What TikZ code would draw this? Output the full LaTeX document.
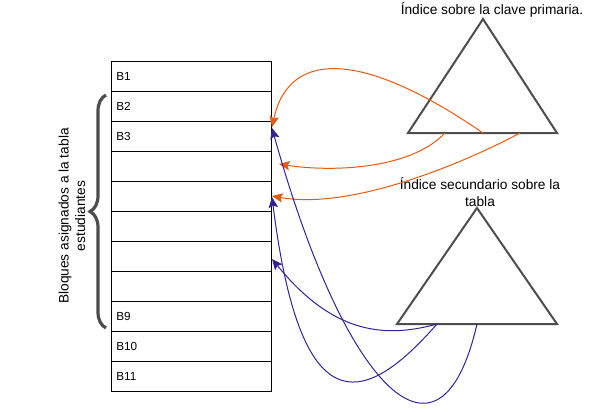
\documentclass[tikz,border=0pt]{standalone}
\usepackage{fontspec}
\setmainfont{Liberation Sans}
\usetikzlibrary{arrows.meta, decorations.pathreplacing}
\definecolor{naranja}{RGB}{232,89,12}
\definecolor{azul}{RGB}{55,32,150}
\definecolor{gris}{RGB}{77,77,77}

\begin{document}
\begin{tikzpicture}[x=0.75pt, y=-0.75pt,
  bloque/.style={draw, line width=0.75pt, minimum height=22.5pt, text width=112pt,
    inner xsep=4pt, inner ysep=0pt, align=left, font=\fontsize{8.8}{10}\selectfont},
  etiqueta/.style={align=center, inner sep=0pt, font=\fontsize{10.3}{12.5}\selectfont},
  arbol/.style={draw=gris, line width=1.5pt, line join=miter},
  llave/.style={draw=gris, line width=2.4pt, decorate, decoration={brace, amplitude=12pt}},
  puntero/.style={line width=0.75pt, -{Stealth[length=8pt, width=7pt, inset=1.5pt]}}]
\useasboundingbox (0,0) rectangle (591,412);

\foreach \i/\t in {1/B1,2/B2,3/B3,4/{},5/{},6/{},7/{},8/{},9/B9,10/B10,11/B11}
  \node[bloque] (r\i) at (191,{46+30*\i}) {\t};

\coordinate (l1) at (106,95);
\coordinate (l2) at (106,328);
\draw[llave] (l2) -- (l1);
\node[etiqueta, rotate=90] (lbl) at (72,216) {Bloques asignados a la tabla\\estudiantes};

\coordinate (p) at (483,19);
\coordinate (pl) at (408,133);
\coordinate (pr) at (557,133);
\draw[arbol] (p) -- (pl) -- (pr) -- cycle;
\node[etiqueta] (np) at (492,10) {Índice sobre la clave primaria.};

\coordinate (s) at (477,208);
\coordinate (sl) at (397,324);
\coordinate (sr) at (557,324);
\draw[arbol] (s) -- (sl) -- (sr) -- cycle;
\node[etiqueta] (ns) at (480,192) {Índice secundario sobre la\\tabla};

\coordinate (o1) at (483,133);
\coordinate (o2) at (445,133);
\coordinate (o3) at (520,133);
\coordinate (a1) at (272,127);
\coordinate (a2) at (279,164);
\coordinate (a3) at (272,196);
\draw[puntero, naranja] (o1) .. controls (370,55) and (290,45) .. (a1);
\draw[puntero, naranja] (o2) .. controls (410,170) and (330,172) .. (a2);
\draw[puntero, naranja] (o3) .. controls (460,165) and (350,210) .. (a3);

\coordinate (b1) at (477,324);
\coordinate (b2) at (437,324);
\coordinate (c1) at (272,128);
\coordinate (c2) at (272,197);
\coordinate (c3) at (272,259);
\draw[puntero, azul] (b1) .. controls (440,485) and (345,390) .. (c1);
\draw[puntero, azul] (b2) .. controls (360,412) and (300,420) .. (c2);
\draw[puntero, azul] (b2) .. controls (380,340) and (330,330) .. (c3);
\end{tikzpicture}
\end{document}
